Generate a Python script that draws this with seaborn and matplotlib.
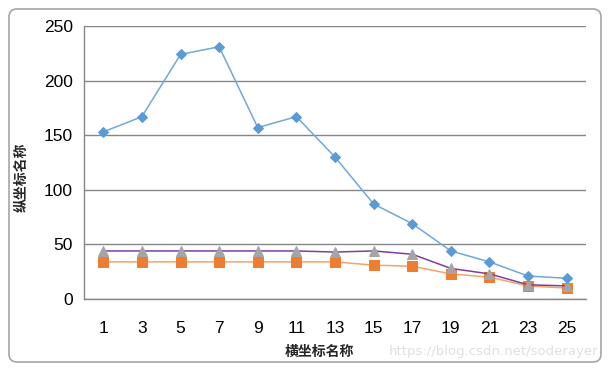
import numpy as np
import pandas as pd
import matplotlib
matplotlib.use("Agg")
import matplotlib.pyplot as plt
from matplotlib.patches import FancyBboxPatch
import seaborn as sns

# data
categories = [1, 3, 5, 7, 9, 11, 13, 15, 17, 19, 21, 23, 25]
series_blue = [153, 167, 224, 231, 157, 167, 130, 87, 69, 44, 34, 21, 19]
series_orange = [34, 34, 34, 34, 34, 34, 34, 31, 30, 23, 20, 12, 10]
series_gray = [44, 44, 44, 44, 44, 44, 43, 44, 41, 28, 23, 13, 12]
y_ticks = [0, 50, 100, 150, 200, 250]

sns.set_style("white")
plt.rcParams['font.family'] = ['Liberation Sans', 'Noto Sans CJK SC', 'DejaVu Sans']

df = pd.DataFrame({
    'pos': np.arange(len(categories)),
    'blue': series_blue,
    'orange': series_orange,
    'gray': series_gray,
})

fig = plt.figure(figsize=(6.09, 3.68), dpi=100)
ax = fig.add_axes([84 / 609, 1 - 299 / 368, 502 / 609, 273 / 368])

# gray triangles on a purple line
sns.lineplot(data=df, x='pos', y='orange', ax=ax, color='#f5a36a', lw=1.1,
             marker='s', markersize=7, markerfacecolor='#ed7d31',
             markeredgecolor='#ed7d31', zorder=3)
sns.lineplot(data=df, x='pos', y='gray', ax=ax, color='#7b3fa0', lw=1.1,
             marker='^', markersize=7.5, markerfacecolor='#a5a5a5',
             markeredgecolor='#a5a5a5', zorder=4)
sns.lineplot(data=df, x='pos', y='blue', ax=ax, color='#6fa8dc', lw=1.1,
             marker='D', markersize=5, markerfacecolor='#5b9bd5',
             markeredgecolor='#5b9bd5', zorder=5)

ax.set_xlim(-0.5, len(categories) - 0.5)
ax.set_ylim(0, 250)
ax.set_yticks(y_ticks)
ax.set_xticks(df['pos'])
ax.set_xticklabels([str(c) for c in categories])
ax.set_xticks(np.arange(-0.5, len(categories), 1), minor=True)
ax.yaxis.grid(True, color='#868686', lw=1)
ax.set_axisbelow(True)

for s in ['top', 'right']:
    ax.spines[s].set_visible(False)
for s in ['left', 'bottom']:
    ax.spines[s].set_color('#868686')
    ax.spines[s].set_linewidth(1)

ax.tick_params(axis='x', which='major', length=0, pad=16, labelsize=12.5)
ax.tick_params(axis='x', which='minor', length=4, width=1, color='#868686', direction='out')
ax.tick_params(axis='y', length=4, width=1, color='#868686', direction='out', pad=4, labelsize=12.5)
ax.tick_params(axis='both', labelcolor='black')

ax.set_xlabel('横坐标名称', fontsize=10, fontweight='bold', family=['Noto Sans CJK SC'])
ax.set_ylabel('纵坐标名称', fontsize=10, fontweight='bold', family=['Noto Sans CJK SC'])
ax.xaxis.set_label_coords((319 - 84) / 502, -(352 - 299) / 273)
ax.yaxis.set_label_coords(-(84 - 22) / 502, (299 - 177) / 273)
ax.xaxis.label.set_va('center')
ax.yaxis.label.set_va('center')

fig.text(598 / 609, 1 - 352 / 368, 'https://blog.csdn.net/soderayer', ha='right', va='center',
         fontsize=9.5, color='#e0e0e0', family=['DejaVu Sans'])

# chart frame
frame = FancyBboxPatch((9, 6), 592, 353, boxstyle='round,pad=0,rounding_size=8',
                       transform=None, fill=False, edgecolor='#a6a6a6', lw=1.2)
fig.patches.append(frame)

fig.savefig('out.png', dpi=100)
